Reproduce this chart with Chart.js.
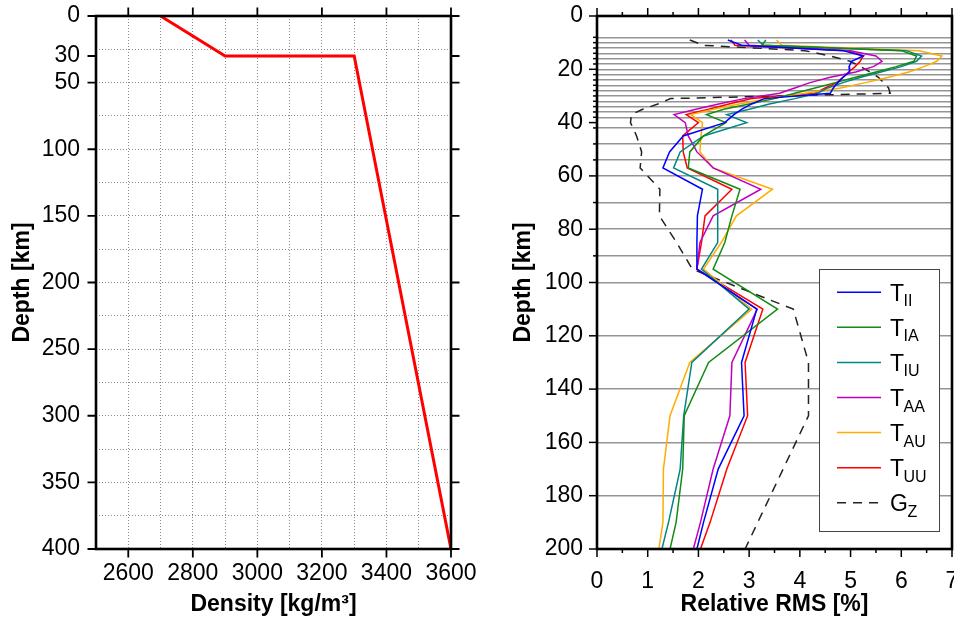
<!DOCTYPE html>
<html>
<head>
<meta charset="utf-8">
<title>Density model and relative RMS</title>
<script src="https://cdn.jsdelivr.net/npm/chart.js@4.4.1/dist/chart.umd.min.js"></script>
<style>
    html, body { margin: 0; padding: 0; background: #fff; }
    body { width: 954px; height: 619px; position: relative; overflow: hidden; }
    canvas { position: absolute; left: 0; top: 0; }
</style>
</head>
<body>
<canvas id="densityChart" width="954" height="619"></canvas>
<canvas id="rmsChart" width="954" height="619"></canvas>
<script>
// Density model: crust 0-30 km, mantle 30-400 km
const densityValues = [2700, 2900, 3300, 3600];
const densityDepths = [0, 30, 30, 400];
const densityDepthLabels = [0, 30, 50, 100, 150, 200, 250, 300, 350, 400];

// Layer interfaces and layer mid-depths (km) of the RMS profiles
const layerBoundaries = [8, 10, 12, 14, 16, 18, 20, 22, 24, 26, 28, 30, 32, 34, 36, 38,
    42, 48, 54, 60, 70, 80, 90, 100, 120, 140, 160, 180];
const layerDepths = [9, 11, 13, 15, 17, 19, 21, 23, 25, 27, 29, 31, 33, 35, 37, 40,
    45, 51, 57, 65, 75, 85, 95, 110, 130, 150, 170, 190, 200];

// Relative RMS [%] per component
const rmsTII = [2.58, 2.85, 4.85, 5.25, 5.02, 4.97, 4.98, 4.85, 4.75, 4.66, 4.60, 3.30, 3.05, 2.85, 2.70,
    2.52, 1.70, 1.43, 1.30, 2.08, 1.98, 1.97, 1.97, 3.15, 2.85, 2.90, 2.39, 2.10, 1.97];
const rmsTIA = [3.33, 3.25, 6.00, 6.30, 6.25, 5.90, 5.50, 5.10, 4.70, 4.30, 3.90, 3.50, 3.00, 2.50, 2.16,
    2.54, 2.10, 1.83, 1.80, 2.82, 2.66, 2.52, 2.29, 3.56, 2.20, 1.72, 1.69, 1.56, 1.44];
const rmsTIU = [3.17, 3.28, 6.10, 6.40, 6.30, 6.00, 5.60, 5.20, 4.85, 4.55, 4.35, 3.90, 3.40, 3.00, 2.56,
    2.95, 2.10, 1.64, 1.51, 2.38, 2.38, 2.38, 2.06, 3.00, 1.87, 1.71, 1.64, 1.41, 1.28];
const rmsTAA = [2.91, 3.00, 5.00, 5.50, 5.62, 5.45, 5.10, 4.60, 4.20, 3.90, 3.60, 2.90, 2.40, 1.95, 1.52,
    1.74, 1.80, 1.97, 2.29, 3.23, 2.29, 2.03, 1.97, 3.16, 2.66, 2.62, 2.29, 2.04, 1.90];
const rmsTAU = [3.54, 3.64, 6.35, 6.80, 6.70, 6.45, 6.15, 5.75, 5.30, 4.80, 4.10, 3.40, 2.80, 2.30, 1.85,
    2.08, 2.05, 2.03, 2.29, 3.46, 2.75, 2.45, 2.10, 3.05, 1.83, 1.44, 1.31, 1.30, 1.22];
const rmsTUU = [2.64, 2.72, 4.95, 5.25, 5.19, 5.09, 4.96, 4.85, 4.73, 4.50, 4.30, 3.05, 2.60, 2.20, 1.76,
    2.00, 1.69, 1.70, 1.78, 2.66, 2.13, 2.06, 1.97, 3.27, 2.92, 2.97, 2.56, 2.23, 2.04];
const rmsGZ = [1.83, 2.10, 4.10, 4.60, 4.99, 5.20, 5.38, 5.55, 5.65, 5.75, 5.78, 1.45, 1.20, 0.90, 0.68,
    0.66, 0.78, 0.88, 0.85, 1.24, 1.23, 1.57, 1.88, 3.87, 4.17, 4.17, 3.67, 3.17, 2.92];

const FONT = "'Liberation Sans', Arial, Helvetica, sans-serif";
Chart.defaults.font.family = FONT;
Chart.defaults.color = '#000';

const toPoints = (xs, ys) => xs.map((x, i) => ({ x: x, y: ys[i] }));
const range = (a, b, step) => {
    const out = [];
    for (let v = a; v <= b + 1e-9; v += step) out.push(Math.round(v * 100) / 100);
    return out;
};

// Frame around the plot area plus outward tick marks
const frameTicks = {
    id: 'frameTicks',
    afterDraw(chart, args, opts) {
        const { ctx, chartArea: a, scales } = chart;
        ctx.save();
        ctx.strokeStyle = '#000';
        ctx.lineCap = 'butt';
        ctx.setLineDash([]);
        const mark = (list, scale, sides) => {
            list.forEach(m => {
                ctx.lineWidth = m.width;
                ctx.beginPath();
                const p = scale.getPixelForValue(m.value);
                sides.forEach(side => {
                    if (side === 'top') { ctx.moveTo(p, a.top); ctx.lineTo(p, a.top - m.len); }
                    if (side === 'bottom') { ctx.moveTo(p, a.bottom); ctx.lineTo(p, a.bottom + m.len); }
                    if (side === 'left') { ctx.moveTo(a.left, p); ctx.lineTo(a.left - m.len, p); }
                    if (side === 'right') { ctx.moveTo(a.right, p); ctx.lineTo(a.right + m.len, p); }
                });
                ctx.stroke();
            });
        };
        mark(opts.xMarks, scales.x, opts.xSides);
        mark(opts.yMarks, scales.y, opts.ySides);
        ctx.lineWidth = opts.frameWidth;
        ctx.strokeRect(a.left, a.top, a.right - a.left, a.bottom - a.top);
        ctx.restore();
    }
};

// Legend box with subscripted labels (label text is "main_sub")
const profileLegend = {
    id: 'profileLegend',
    afterDraw(chart, args, opts) {
        const ctx = chart.ctx;
        ctx.save();
        ctx.fillStyle = '#fff';
        ctx.fillRect(opts.left, opts.top, opts.width, opts.height);
        ctx.strokeStyle = '#444';
        ctx.lineWidth = 1;
        ctx.strokeRect(opts.left + 0.5, opts.top + 0.5, opts.width, opts.height);
        chart.data.datasets.forEach((ds, i) => {
            const y = opts.firstRow + i * opts.rowGap;
            ctx.strokeStyle = ds.borderColor;
            ctx.lineWidth = ds.borderWidth;
            ctx.setLineDash(ds.borderDash || []);
            ctx.beginPath();
            ctx.moveTo(opts.lineStart, y);
            ctx.lineTo(opts.lineEnd, y);
            ctx.stroke();
            ctx.setLineDash([]);

            const [main, sub] = ds.label.split('_');
            ctx.fillStyle = '#000';
            ctx.textAlign = 'left';
            ctx.textBaseline = 'alphabetic';
            ctx.font = opts.size + 'px ' + FONT;
            ctx.fillText(main, opts.textX, y + 8.5);
            const w = ctx.measureText(main).width;
            ctx.font = opts.subSize + 'px ' + FONT;
            ctx.fillText(sub, opts.textX + w - 0.5, y + 14);
        });
        ctx.restore();
    }
};

function fixedAxis(size, horizontal) {
    return scale => {
        if (horizontal) scale.height = size; else scale.width = size;
        scale.paddingLeft = 0;
        scale.paddingRight = 0;
        scale.paddingTop = 0;
        scale.paddingBottom = 0;
    };
}

const titleFont = { size: 23, weight: 'bold', family: FONT };
const tickFont = { size: 23, family: FONT };
const clear = 'rgba(0,0,0,0)';

// Left panel: density versus depth
new Chart(document.getElementById('densityChart'), {
    type: 'scatter',
    data: {
        datasets: [{
            data: toPoints(densityValues, densityDepths),
            showLine: true,
            borderColor: '#ff0000',
            borderWidth: 3,
            pointRadius: 0,
            fill: false,
            tension: 0
        }]
    },
    options: {
        responsive: false,
        animation: false,
        events: [],
        layout: { padding: { left: 0, top: 16, right: 503, bottom: 0 } },
        plugins: {
            legend: { display: false },
            tooltip: { enabled: false },
            frameTicks: {
                frameWidth: 2.6,
                xSides: ['top', 'bottom'],
                ySides: ['left', 'right'],
                xMarks: range(2600, 3600, 200).map(v => ({ value: v, len: 8.5, width: 1.8 })),
                yMarks: densityDepthLabels.map(v => ({ value: v, len: 8.5, width: 1.8 }))
            }
        },
        scales: {
            x: {
                type: 'linear',
                min: 2500,
                max: 3600,
                afterFit: fixedAxis(70, true),
                afterBuildTicks: s => { s.ticks = range(2500, 3600, 100).map(v => ({ value: v })); },
                // dotted grid lines (v4 takes the dash from border.dash)
                border: { display: false, dash: [1, 2] },
                grid: {
                    drawTicks: false,
                    color: c => (c.tick && c.tick.value > 2500 && c.tick.value < 3600) ? '#8a8a8a' : clear,
                    lineWidth: 1
                },
                ticks: {
                    autoSkip: false,
                    maxRotation: 0,
                    padding: 11,
                    font: tickFont,
                    callback: v => (v >= 2600 && v % 200 === 0) ? String(v) : ''
                },
                title: {
                    display: true,
                    text: 'Density [kg/m\u00b3]',
                    font: titleFont,
                    padding: { top: 0, bottom: 1 }
                }
            },
            y: {
                type: 'linear',
                reverse: true,
                min: 0,
                max: 400,
                afterFit: fixedAxis(96, false),
                afterBuildTicks: s => {
                    const vals = range(0, 400, 25).concat([30]).sort((a, b) => a - b);
                    s.ticks = vals.map(v => ({ value: v }));
                },
                border: { display: false, dash: [1, 2] },
                grid: {
                    drawTicks: false,
                    color: c => (c.tick && c.tick.value % 25 === 0 && c.tick.value > 0 && c.tick.value < 400) ? '#8a8a8a' : clear,
                    lineWidth: 1
                },
                ticks: {
                    autoSkip: false,
                    padding: 16,
                    font: tickFont,
                    callback: v => densityDepthLabels.includes(v) ? String(v) : ''
                },
                title: {
                    display: true,
                    text: 'Depth [km]',
                    font: titleFont,
                    padding: { top: 9, bottom: 0 }
                }
            }
        }
    },
    plugins: [frameTicks]
});

// Right panel: relative RMS per layer
const profile = (label, values, color, dash) => ({
    label: label,
    data: toPoints(values, layerDepths),
    showLine: true,
    borderColor: color,
    borderWidth: 1.5,
    borderDash: dash || [],
    pointRadius: 0,
    fill: false,
    tension: 0
});

new Chart(document.getElementById('rmsChart'), {
    type: 'scatter',
    data: {
        datasets: [
            profile('T_II', rmsTII, '#0000ff'),
            profile('T_IA', rmsTIA, '#138a13'),
            profile('T_IU', rmsTIU, '#008585'),
            profile('T_AA', rmsTAA, '#c000c0'),
            profile('T_AU', rmsTAU, '#ffad00'),
            profile('T_UU', rmsTUU, '#ff0000'),
            profile('G_Z', rmsGZ, '#222222', [9, 7])
        ]
    },
    options: {
        responsive: false,
        animation: false,
        events: [],
        layout: { padding: { left: 477, top: 16, right: 2, bottom: 0 } },
        plugins: {
            legend: { display: false },
            tooltip: { enabled: false },
            profileLegend: {
                left: 819, top: 269, width: 120, height: 262,
                lineStart: 837, lineEnd: 881, textX: 890,
                firstRow: 292.3, rowGap: 35.07,
                size: 23, subSize: 16
            },
            frameTicks: {
                frameWidth: 2.6,
                xSides: ['top', 'bottom'],
                ySides: ['left'],
                xMarks: range(0, 7, 0.5).map(v => ({ value: v, len: v % 1 === 0 ? 8 : 4, width: 1.5 })),
                yMarks: range(0, 200, 20).map(v => ({ value: v, len: 8, width: 1.5 }))
                    .concat(layerBoundaries.filter(v => v % 20 !== 0).map(v => ({ value: v, len: 4, width: 1.5 })))
            }
        },
        scales: {
            x: {
                type: 'linear',
                min: 0,
                max: 7,
                afterFit: fixedAxis(70, true),
                border: { display: false },
                grid: { display: false },
                ticks: {
                    stepSize: 1,
                    autoSkip: false,
                    maxRotation: 0,
                    padding: 11,
                    font: tickFont
                },
                title: {
                    display: true,
                    text: 'Relative RMS [%]',
                    font: titleFont,
                    padding: { top: 0, bottom: 1 }
                }
            },
            y: {
                type: 'linear',
                reverse: true,
                min: 0,
                max: 200,
                afterFit: fixedAxis(120, false),
                afterBuildTicks: s => {
                    const vals = Array.from(new Set(range(0, 200, 20).concat(layerBoundaries))).sort((a, b) => a - b);
                    s.ticks = vals.map(v => ({ value: v }));
                },
                border: { display: false },
                grid: {
                    drawTicks: false,
                    color: c => (c.tick && layerBoundaries.includes(c.tick.value)) ? '#959595' : clear,
                    lineWidth: 1.5
                },
                ticks: {
                    autoSkip: false,
                    padding: 14,
                    font: tickFont,
                    callback: v => (v % 20 === 0) ? String(v) : ''
                },
                title: {
                    display: true,
                    text: 'Depth [km]',
                    font: titleFont,
                    padding: { top: 33, bottom: 0 }
                }
            }
        }
    },
    plugins: [profileLegend, frameTicks]
});
</script>
</body>
</html>
